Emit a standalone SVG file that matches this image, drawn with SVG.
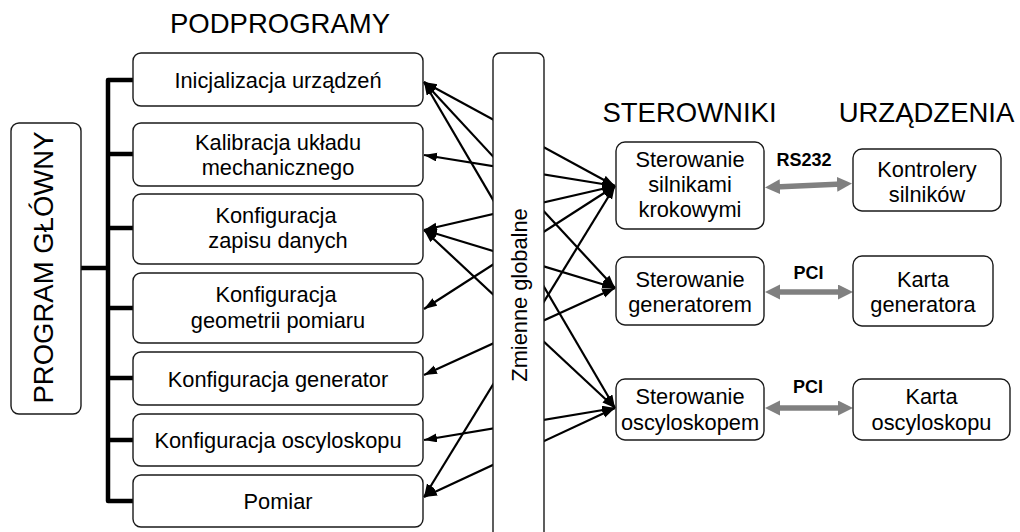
<svg xmlns="http://www.w3.org/2000/svg" width="1020" height="532" viewBox="0 0 1020 532">
<style>
.box{fill:#fff;stroke:#1a1a1a;stroke-width:1.4}
.t{font-family:"Liberation Sans",Arial,sans-serif;font-size:21.8px;fill:#000;text-anchor:middle}
.title{font-family:"Liberation Sans",Arial,sans-serif;font-size:27.5px;fill:#000;text-anchor:middle}
.lbl{font-family:"Liberation Sans",Arial,sans-serif;font-size:18px;font-weight:bold;fill:#000;text-anchor:middle}
.bus{stroke:#000;stroke-width:4.5;fill:none;stroke-linecap:round}
.ln{stroke:#000;stroke-width:2.2;fill:none;marker-start:url(#ah);marker-end:url(#ah)}
.gr{stroke:#808080;stroke-width:5.5;fill:none;marker-start:url(#gh);marker-end:url(#gh)}
</style>
<defs>
<marker id="ah" markerUnits="userSpaceOnUse" markerWidth="14" markerHeight="10" refX="13" refY="4.5" orient="auto-start-reverse"><path d="M0,0 L13,4.5 L0,9 z" fill="#000"/></marker>
<marker id="gh" markerUnits="userSpaceOnUse" markerWidth="16" markerHeight="16" refX="5" refY="7.5" orient="auto-start-reverse"><path d="M0,0 L15,7.5 L0,15 z" fill="#808080"/></marker>
</defs>
<rect width="1020" height="532" fill="#fff"/>

<g id="titles">
<text class="title" x="280" y="33">PODPROGRAMY</text>
<text class="title" x="689.5" y="122">STEROWNIKI</text>
<text class="title" x="926.5" y="122">URZĄDZENIA</text>
</g>

<g id="connectors">
<path class="bus" d="M108,80 V501 M108,80 H133 M108,154 H133 M108,228 H133 M108,308 H133 M108,378 H133 M108,440 H133 M108,501 H133 M80,268 H108"/>
<line class="ln" x1="424" y1="82" x2="615" y2="186"/>
<line class="ln" x1="424" y1="82" x2="615" y2="288"/>
<line class="ln" x1="424" y1="82" x2="615" y2="408"/>
<line class="ln" x1="424" y1="155" x2="615" y2="186"/>
<line class="ln" x1="424" y1="230" x2="615" y2="186"/>
<line class="ln" x1="424" y1="230" x2="615" y2="288"/>
<line class="ln" x1="424" y1="230" x2="615" y2="408"/>
<line class="ln" x1="424" y1="309" x2="615" y2="186"/>
<line class="ln" x1="424" y1="375" x2="615" y2="288"/>
<line class="ln" x1="424" y1="440" x2="615" y2="408"/>
<line class="ln" x1="424" y1="497" x2="615" y2="186"/>
<line class="ln" x1="424" y1="497" x2="615" y2="408"/>
<line class="gr" x1="775" y1="187" x2="842" y2="184"/>
<line class="gr" x1="775" y1="292" x2="843" y2="292"/>
<line class="gr" x1="775" y1="408" x2="843" y2="408"/>
<text class="lbl" x="804" y="166">RS232</text>
<text class="lbl" x="808.5" y="279">PCI</text>
<text class="lbl" x="808" y="393">PCI</text>
</g>

<g id="program-glowny">
<rect class="box" x="11" y="123" width="70" height="291" rx="8"/>
<text class="title" transform="translate(53,267.5) rotate(-90)">PROGRAM GŁÓWNY</text>
</g>

<g id="zmienne-globalne">
<rect class="box" x="493" y="53" width="51" height="520" rx="7"/>
<text class="t" transform="translate(527,295) rotate(-90)">Zmienne globalne</text>
</g>

<g id="inicjalizacja">
<rect class="box" x="133" y="53" width="290" height="53" rx="8"/>
<text class="t" x="278" y="88">Inicjalizacja urządzeń</text>
</g>
<g id="kalibracja">
<rect class="box" x="133" y="123" width="290" height="63" rx="8"/>
<text class="t" x="278" y="150">Kalibracja układu</text>
<text class="t" x="278" y="175">mechanicznego</text>
</g>
<g id="zapis">
<rect class="box" x="133" y="194" width="290" height="70" rx="8"/>
<text class="t" x="276" y="223">Konfiguracja</text>
<text class="t" x="278" y="248">zapisu danych</text>
</g>
<g id="geometria">
<rect class="box" x="133" y="273" width="290" height="70" rx="8"/>
<text class="t" x="276" y="302">Konfiguracja</text>
<text class="t" x="278" y="328">geometrii pomiaru</text>
</g>
<g id="konf-generator">
<rect class="box" x="133" y="352" width="290" height="53" rx="8"/>
<text class="t" x="278" y="387">Konfiguracja generator</text>
</g>
<g id="konf-oscyloskop">
<rect class="box" x="133" y="414" width="290" height="52" rx="8"/>
<text class="t" x="278" y="448">Konfiguracja oscyloskopu</text>
</g>
<g id="pomiar">
<rect class="box" x="133" y="475" width="290" height="52" rx="8"/>
<text class="t" x="278" y="509">Pomiar</text>
</g>

<g id="ster-silniki">
<rect class="box" x="616" y="142" width="148" height="87" rx="9"/>
<text class="t" x="690" y="167">Sterowanie</text>
<text class="t" x="690" y="192">silnikami</text>
<text class="t" x="690" y="217">krokowymi</text>
</g>
<g id="ster-generator">
<rect class="box" x="616" y="257" width="148" height="68" rx="9"/>
<text class="t" x="690" y="287">Sterowanie</text>
<text class="t" x="690" y="312">generatorem</text>
</g>
<g id="ster-oscyloskop">
<rect class="box" x="616" y="379" width="148" height="61" rx="9"/>
<text class="t" x="690" y="404">Sterowanie</text>
<text class="t" x="690" y="430">oscyloskopem</text>
</g>
<g id="kontrolery">
<rect class="box" x="853" y="149" width="148" height="62" rx="9"/>
<text class="t" x="927" y="177">Kontrolery</text>
<text class="t" x="927" y="202">silników</text>
</g>
<g id="karta-generatora">
<rect class="box" x="853" y="256" width="140" height="70" rx="9"/>
<text class="t" x="923" y="287">Karta</text>
<text class="t" x="923" y="312">generatora</text>
</g>
<g id="karta-oscyloskopu">
<rect class="box" x="853" y="379" width="157" height="61" rx="9"/>
<text class="t" x="931.5" y="404">Karta</text>
<text class="t" x="931.5" y="430">oscyloskopu</text>
</g>
</svg>
